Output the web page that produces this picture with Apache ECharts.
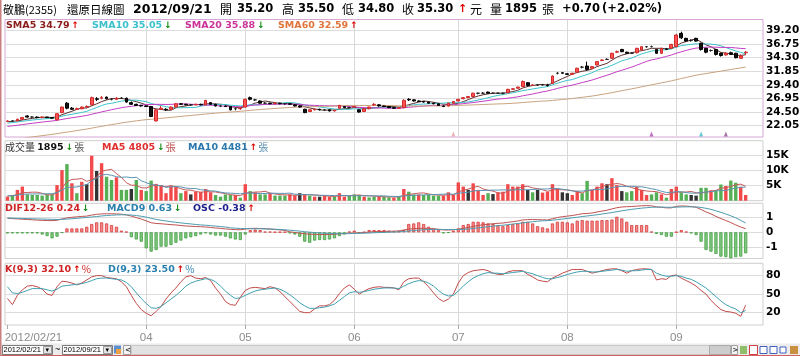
<!DOCTYPE html>
<html><head><meta charset="utf-8">
<script src="https://cdn.jsdelivr.net/npm/echarts@6/dist/echarts.min.js"></script>
<style>html,body{margin:0;padding:0;background:#fff}#c{width:800px;height:356px}</style>
</head><body><div id="c"></div>
<script>
// ---------- DATA ----------
const tradingDays = [
  ['02', [21,22,23,24,29]],
  ['03', [1,2,3,5,6,7,8,9,12,13,14,15,16,19,20,21,22,23,26,27,28,29,30]],
  ['04', [2,3,5,6,9,10,11,12,13,16,17,18,19,20,23,24,25,26,27,30]],
  ['05', [2,3,4,7,8,9,10,11,14,15,16,17,18,21,22,23,24,25,28,29,30,31]],
  ['06', [1,4,5,6,7,8,11,12,13,14,15,18,19,20,21,22,25,26,27,28,29]],
  ['07', [2,3,4,5,6,9,10,11,12,13,16,17,18,19,20,23,24,25,26,27,30,31]],
  ['08', [1,3,6,7,8,9,10,13,14,15,16,17,20,21,22,23,24,27,28,29,30,31]],
  ['09', [3,4,5,6,7,10,11,12,13,14,17,18,19,20,21]]
];
const opens = [22.8,22.9,22.9,23.2,23.8,23.6,23.6,23.5,23.6,23.5,
 23.1,24.4,26.1,25.2,25.0,25.1,25.4,25.8,26.9,27.0,
 27.2,26.8,26.8,27.0,27.0,26.2,25.9,25.7,25.6,25.5,
 22.9,25.0,25.0,25.0,25.4,26.0,25.9,25.8,25.8,25.9,
 25.8,26.2,25.9,25.6,25.6,25.5,25.1,25.1,25.4,27.1,
 26.7,26.5,26.1,26.1,26.0,26.1,26.0,26.0,25.8,25.6,
 25.0,24.6,24.9,25.0,24.9,24.9,24.7,25.2,25.5,25.3,
 25.4,24.9,24.6,25.1,25.8,25.8,25.6,25.5,25.3,25.2,
 25.3,26.8,26.7,26.5,26.4,26.3,26.1,26.0,25.6,25.6,
 26.1,26.5,26.9,27.1,27.3,27.9,27.9,28.1,27.9,27.9,
 27.9,28.0,28.6,28.8,29.1,29.8,29.3,29.4,29.4,29.4,
 29.7,31.5,31.6,31.4,31.3,31.7,32.6,32.8,32.4,33.0,
 33.8,34.0,34.2,35.3,35.8,35.3,35.1,35.2,35.7,36.3,
 36.3,35.8,35.1,35.9,36.0,36.3,38.7,37.8,37.4,37.8,
 36.9,36.0,35.6,35.8,35.1,34.8,35.2,35.1,34.2,35.2];
const closes = [22.9,22.9,23.2,23.5,23.6,23.6,23.5,23.6,23.5,23.4,
 24.2,25.4,25.2,25.0,25.1,25.4,25.5,27.1,26.8,27.1,
 26.9,26.8,27.0,27.0,26.3,25.9,25.7,25.6,25.5,23.7,
 24.9,25.2,24.9,25.4,26.0,25.9,25.8,25.8,25.9,25.8,
 26.6,25.9,25.6,25.6,25.5,24.9,25.1,25.2,26.8,26.8,
 26.7,26.1,26.1,26.0,26.1,26.0,26.0,25.9,25.6,25.4,
 24.4,24.9,25.0,24.9,24.9,24.7,24.8,25.7,25.3,25.3,
 25.5,24.5,25.1,25.4,25.9,25.6,25.5,25.3,25.2,25.3,
 26.6,26.7,26.5,26.4,26.3,26.1,26.0,25.7,25.5,26.1,
 26.4,26.8,27.1,27.3,27.9,27.9,27.9,27.9,27.9,27.9,
 27.9,28.6,28.7,29.0,30.0,29.3,29.4,29.4,29.4,29.3,
 31.0,31.5,31.5,31.3,31.5,32.4,32.6,32.2,32.7,33.6,
 33.9,34.0,35.1,35.4,35.4,35.1,35.1,36.0,36.3,36.3,
 36.3,35.1,36.0,35.8,36.7,38.4,37.9,37.3,37.4,37.3,
 35.8,35.3,35.6,34.9,34.7,35.1,34.9,34.3,34.6,35.3];
const lows = [22.7,22.8,22.8,23.1,23.5,23.5,23.4,23.4,23.4,23.3,
 23.0,24.3,25.0,24.9,24.9,25.0,25.3,25.7,26.5,26.8,
 26.8,26.6,26.7,26.9,26.2,25.8,25.6,25.5,25.4,23.6,
 22.8,24.9,24.7,24.9,25.3,25.8,25.7,25.6,25.7,25.7,
 25.7,25.8,25.5,25.4,25.4,24.8,24.8,24.9,25.3,26.6,
 26.5,26.0,26.0,25.9,25.9,25.9,25.8,25.8,25.5,25.3,
 24.3,24.5,24.8,24.8,24.7,24.6,24.6,25.1,25.2,25.2,
 25.3,24.4,24.5,25.0,25.6,25.5,25.4,25.2,25.1,25.1,
 25.2,26.5,26.4,26.3,26.2,26.0,25.9,25.6,25.4,25.5,
 26.0,26.4,26.8,27.0,27.2,27.7,27.8,27.8,27.8,27.8,
 27.7,27.9,28.5,28.7,29.0,29.1,29.2,29.2,29.3,29.1,
 29.6,31.3,31.4,31.2,31.2,31.6,32.4,32.0,32.3,32.9,
 33.7,33.9,34.1,35.2,35.3,35.0,35.0,35.1,35.6,36.1,
 36.2,35.0,35.0,35.7,35.9,36.2,37.7,37.2,37.2,37.2,
 35.6,35.1,35.4,34.7,34.5,34.7,34.8,34.2,34.1,34.8];
const highs = [23.0,23.0,23.3,23.6,23.9,23.7,23.7,23.7,23.6,23.6,
 24.3,25.5,26.3,25.4,25.3,25.5,25.7,27.3,27.2,27.4,
 27.3,27.0,27.2,27.2,27.1,26.4,26.0,25.8,25.7,25.6,
 25.0,25.6,25.2,25.5,26.1,26.1,26.0,25.9,26.0,26.0,
 26.7,26.3,26.0,25.7,25.7,25.6,25.3,25.4,26.9,27.3,
 26.9,26.6,26.3,26.2,26.2,26.2,26.1,26.1,25.9,25.7,
 25.1,25.0,25.1,25.1,25.0,25.0,24.9,25.8,25.6,25.5,
 25.6,25.0,25.2,25.5,26.1,25.9,25.7,25.6,25.4,25.4,
 26.8,27.0,26.8,26.6,26.5,26.4,26.2,26.0,25.7,26.2,
 26.5,26.9,27.2,27.4,28.0,28.0,28.1,28.2,28.0,28.0,
 28.0,28.7,28.8,29.1,30.2,29.9,29.5,29.5,29.5,29.6,
 31.1,31.7,31.7,31.5,31.6,32.5,32.8,33.6,32.8,33.7,
 34.0,34.2,35.2,35.6,35.9,35.4,35.3,36.1,36.4,36.4,
 36.5,35.9,36.1,36.0,36.8,38.6,39.0,37.9,37.6,37.9,
 37.0,36.1,35.8,35.9,35.2,35.3,35.4,35.2,34.9,35.5];
// closes of the 59 sessions before 2012/02/21 (estimated so the averages start where the picture shows)
const priorCloses = [16.0,16.2,16.2,16.0,15.9,16.6,16.4,16.3,16.5,16.6,16.8,16.9,17.0,16.9,17.0,
 17.1,17.2,17.3,17.4,17.5,17.6,17.8,18.0,18.2,18.4,18.6,18.9,19.2,19.5,
 19.8,20.0,20.2,20.3,20.4,20.5,20.6,20.7,20.9,21.0,21.3,
 21.0,21.1,21.0,21.2,21.3,21.4,21.3,21.5,21.6,21.8,22.0,22.1,22.3,22.4,22.5,22.6,22.7,22.8,22.8];
const volumes = [1350,1900,3600,4700,2100,1900,1900,1700,2100,2100,
 5200,10200,12200,5800,2500,6300,5500,15000,9900,12500,
 8000,6900,7800,3600,3600,3900,6900,3600,3200,6700,
 5600,5200,2500,5000,4700,2500,3200,2100,3000,3000,
 3900,2800,1900,1350,2100,1900,1900,1000,5500,3200,
 2800,2100,2100,2500,1700,1700,1700,2100,1700,2500,
 2100,1700,1350,1350,1700,1350,1350,2500,1350,1700,
 2100,1900,1350,1100,1350,1350,1350,1100,1000,1500,
 3900,3000,2100,2100,1900,2100,1700,1700,1700,2800,
 2100,6100,4700,3600,5800,3600,1900,2500,2200,2800,
 3000,5500,4700,4700,5500,3600,2800,3600,2700,3000,
 5500,4100,2800,2500,1900,3200,2500,6600,3600,4700,
 5800,5500,7500,5200,3200,2800,3200,4700,3600,1900,
 2100,2800,2100,1000,3900,4700,2800,2100,1900,1700,
 4300,4300,3500,3400,5400,4900,6700,6000,4600,1895];
// 1 = up vs previous close, -1 = down, 0 = unchanged
const volDir = [1,-1,1,1,-1,-1,-1,-1,-1,-1,
 1,1,-1,1,-1,1,0,1,0,1,
 -1,-1,1,-1,-1,0,-1,1,-1,-1,
 1,1,1,1,1,-1,1,0,1,1,
 1,1,-1,-1,-1,-1,1,-1,1,-1,
 1,-1,-1,1,-1,-1,-1,1,1,0,
 1,-1,1,0,1,1,-1,1,1,-1,
 -1,-1,1,-1,-1,1,-1,-1,1,-1,
 1,-1,-1,1,-1,-1,-1,-1,1,1,
 1,1,1,0,1,1,1,-1,0,1,
 1,1,1,1,1,0,-1,0,1,1,
 1,1,0,0,1,1,-1,-1,1,1,
 1,0,1,1,0,-1,-1,1,1,1,
 -1,-1,1,-1,1,1,-1,-1,0,0,
 -1,-1,1,-1,-1,1,-1,-1,1,1];
const priorVolumes = [1500,1700,1600,1400,1800,1500,1700,1600,1900];
const difValues = [0.95,0.93,0.91,0.89,0.87,0.85,0.83,0.81,0.80,0.79,
 0.82,0.90,0.98,1.02,1.05,1.08,1.10,1.17,1.22,1.25,
 1.26,1.26,1.25,1.23,1.18,1.10,1.00,0.90,0.78,0.65,
 0.60,0.58,0.55,0.52,0.50,0.46,0.43,0.41,0.39,0.38,
 0.36,0.33,0.29,0.27,0.23,0.20,0.18,0.17,0.22,0.26,
 0.27,0.26,0.24,0.22,0.19,0.16,0.13,0.03,-0.01,-0.06,
 -0.10,-0.13,-0.14,-0.15,-0.15,-0.14,-0.13,-0.10,-0.08,-0.06,
 -0.04,-0.04,-0.02,0.01,0.04,0.05,0.06,0.07,0.08,0.09,
 0.16,0.22,0.25,0.27,0.27,0.26,0.24,0.20,0.16,0.15,
 0.17,0.21,0.27,0.33,0.40,0.46,0.51,0.55,0.58,0.61,
 0.63,0.68,0.72,0.77,0.84,0.86,0.87,0.86,0.85,0.84,
 0.92,1.00,1.06,1.10,1.14,1.20,1.26,1.28,1.31,1.38,
 1.44,1.50,1.59,1.67,1.72,1.74,1.75,1.78,1.80,1.81,
 1.80,1.73,1.70,1.66,1.66,1.76,1.79,1.78,1.75,1.70,
 1.55,1.38,1.25,1.08,0.93,0.80,0.66,0.50,0.36,0.24];
const macdValues = [0.97,0.96,0.95,0.94,0.93,0.92,0.91,0.90,0.89,0.88,
 0.87,0.88,0.90,0.92,0.95,0.98,1.01,1.04,1.07,1.11,
 1.14,1.16,1.18,1.19,1.19,1.17,1.14,1.09,1.03,0.95,
 0.88,0.82,0.77,0.72,0.68,0.64,0.60,0.57,0.53,0.50,
 0.48,0.45,0.42,0.39,0.36,0.30,0.28,0.26,0.25,0.24,
 0.24,0.24,0.23,0.22,0.21,0.19,0.17,0.14,0.11,0.08,
 0.04,0.01,-0.02,-0.04,-0.06,-0.08,-0.09,-0.09,-0.09,-0.09,
 -0.08,-0.07,-0.06,-0.05,-0.03,-0.02,-0.01,0.01,0.02,0.03,
 0.06,0.09,0.12,0.15,0.17,0.19,0.20,0.20,0.19,0.19,
 0.19,0.19,0.20,0.22,0.26,0.30,0.34,0.38,0.42,0.45,
 0.48,0.52,0.56,0.60,0.64,0.68,0.72,0.75,0.78,0.79,
 0.82,0.86,0.90,0.94,0.98,1.02,1.07,1.11,1.15,1.19,
 1.24,1.29,1.34,1.40,1.46,1.51,1.56,1.60,1.64,1.67,
 1.70,1.71,1.71,1.70,1.70,1.71,1.72,1.73,1.73,1.72,
 1.69,1.63,1.56,1.46,1.36,1.24,1.12,0.98,0.81,0.63];
const oscValues = [-0.02,-0.02,-0.02,-0.02,-0.02,-0.02,-0.02,-0.04,-0.07,-0.11,
 -0.08,-0.01,0.07,0.07,0.07,0.07,0.10,0.15,0.18,0.18,
 0.16,0.13,0.10,0.03,0.01,-0.09,-0.13,-0.17,-0.29,-0.35,
 -0.32,-0.26,-0.26,-0.23,-0.19,-0.15,-0.11,-0.09,-0.07,-0.04,
 -0.02,-0.04,-0.06,-0.06,-0.08,-0.11,-0.13,-0.14,-0.04,0.04,
 0.05,0.04,0.01,0.01,0.005,0.005,0.005,-0.02,-0.04,-0.08,
 -0.17,-0.19,-0.15,-0.14,-0.14,-0.13,-0.11,-0.07,-0.04,0.01,
 0.03,-0.01,0.005,0.04,0.04,0.04,0.04,0.03,0.02,0.03,
 0.04,0.15,0.16,0.18,0.15,0.10,0.07,0.04,-0.02,-0.01,
 0.03,0.07,0.13,0.15,0.19,0.19,0.18,0.16,0.15,0.13,
 0.11,0.13,0.15,0.16,0.19,0.19,0.16,0.11,0.09,0.07,
 0.16,0.19,0.19,0.18,0.16,0.21,0.22,0.21,0.21,0.21,
 0.22,0.22,0.23,0.28,0.25,0.19,0.13,0.13,0.13,0.13,
 0.01,-0.03,-0.05,-0.08,-0.08,0.005,0.04,0.01,-0.02,-0.05,
 -0.17,-0.32,-0.35,-0.39,-0.44,-0.45,-0.47,-0.45,-0.44,-0.38];
const kValues = [43,33,48,57,63,64,62,58,50,48,
 62,71,70,68,65,68,73,78,80,80,
 77,76,75,70,62,48,35,25,19,15,
 22,30,42,52,60,70,78,80,76,75,
 77,72,60,50,38,33,32,45,56,60,
 61,60,59,62,60,54,46,38,30,22,
 20,20,26,31,31,33,40,51,60,65,
 58,50,55,59,61,62,61,61,60,57,
 70,75,76,76,70,62,52,43,38,42,
 50,68,80,85,88,89,90,88,84,82,
 82,86,88,88,88,82,78,73,71,70,
 76,80,84,87,90,90,90,87,84,86,
 88,90,91,91,88,84,88,90,91,91,
 90,73,75,74,80,81,76,72,68,63,
 56,50,40,32,25,22,21,19,14,32.10];
const dValues = [62,52,51,53,56,59,59,59,57,55,
 58,63,64,65,66,67,69,72,75,76,
 76,75,74,73,69,62,52,43,35,28,
 27,30,36,42,48,55,63,68,71,73,
 75,74,70,63,55,48,43,44,48,52,
 55,57,58,59,60,58,54,49,43,36,
 31,27,27,28,29,31,34,40,46,52,
 54,53,54,56,58,59,60,60,60,59,
 63,67,70,72,71,68,63,56,50,47,
 48,55,63,70,76,80,83,85,84,84,
 83,84,85,86,87,85,83,80,77,75,
 75,77,79,82,84,86,87,87,86,86,
 87,88,89,90,89,87,88,88,89,90,
 90,84,81,79,79,80,79,76,74,70,
 65,60,53,46,39,33,29,26,20,23.50];
const priceTicks = [22.05,24.50,26.95,29.40,31.85,34.30,36.75,39.20];
const volTicks = [5000,10000,15000];
const macdTicks = [-1,0,1];
const kdTicks = [20,50,80];
const eventDays = [90,130,140,145];

// ---------- BUILD ----------
const dates = [];
const monthStarts = [];
tradingDays.forEach(([m, days], mi) => {
  if (mi > 1) monthStarts.push(dates.length);
  days.forEach(d => dates.push('2012/' + m + '/' + String(d).padStart(2, '0')));
});
const cats = dates.concat([' ', '  ', '   ']);
const showLab = new Set([0].concat(monthStarts));

function movingAvg(values, prior, n) {
  const all = prior.concat(values), off = prior.length;
  return values.map((_, i) => {
    const end = off + i;
    if (end + 1 < n) return null;
    let s = 0;
    for (let k = end - n + 1; k <= end; k++) s += all[k];
    return +(s / n).toFixed(3);
  });
}
const sma5 = movingAvg(closes, priorCloses, 5);
const sma10 = movingAvg(closes, priorCloses, 10);
const sma20 = movingAvg(closes, priorCloses, 20);
const sma60 = movingAvg(closes, priorCloses, 60);
const vma5 = movingAvg(volumes, priorVolumes, 5);
const vma10 = movingAvg(volumes, priorVolumes, 10);

const ohlc = dates.map((d, i) => [opens[i], closes[i], lows[i], highs[i]]);
const volColors = {'1': '#f24a4a', '-1': '#55b055', '0': '#333333'};
const volData = volumes.map((v, i) => ({value: v, itemStyle: {color: volColors[volDir[i]]}}));
const oscData = oscValues.map(v => ({value: v, itemStyle: v >= 0
  ? {color: '#f58a8a', borderColor: '#d83c3c', borderWidth: 0.8}
  : {color: '#82c882', borderColor: '#44a044', borderWidth: 0.8}}));
const eventColors = ['#e8a0a0', '#b050b0', '#40c0c8', '#905090'];
const eventData = eventDays.map((d, i) => ({value: [dates[d], 20.0], itemStyle: {color: eventColors[i]}}));

const vLines = {
  silent: true, z: 1, symbol: ['none', 'none'], animation: false,
  label: {show: false}, lineStyle: {color: '#d9d9d9', width: 1, type: 'solid'},
  data: monthStarts.map(i => ({xAxis: dates[i]}))
};

const G = {left: 5, right: 37, outerBoundsMode: 'none', containLabel: false, show: true, backgroundColor: '#fff'};
const grids = [
  Object.assign({}, G, {top: 19.5, height: 117.5, borderColor: '#d7a6d7'}),
  Object.assign({}, G, {top: 140.7, height: 60, borderColor: '#cfcfcf'}),
  Object.assign({}, G, {top: 203.3, height: 55.2, borderColor: '#cfcfcf'}),
  Object.assign({}, G, {top: 263.3, height: 61.7, borderColor: '#cfcfcf'})
];
const xAxes = [0, 1, 2, 3].map(g => ({
  type: 'category', gridIndex: g, data: cats, boundaryGap: true,
  axisLine: {show: false}, splitLine: {show: false},
  axisTick: g === 3 ? {show: true, interval: i => showLab.has(i), alignWithLabel: true, length: 4, lineStyle: {color: '#aaa'}} : {show: false},
  axisLabel: g === 3 ? {
    show: true, interval: i => showLab.has(i), color: '#8c8c8c', fontSize: 11.5, fontFamily: 'Liberation Sans',
    margin: 7, hideOverlap: false,
    formatter: (v, i) => i === 0 ? '{d|' + v + '}' : v.slice(5, 7),
    rich: {d: {color: '#8c8c8c', fontSize: 11.5, fontFamily: 'Liberation Sans', padding: [0, 0, 0, 52]}}
  } : {show: false}
}));
const yLab = {show: true, color: '#000', fontWeight: 'bold', fontSize: 10.5, fontFamily: 'DejaVu Sans', margin: 3};
const split = {show: true, lineStyle: {color: '#dcdcdc', width: 1}};
const yAxes = [
  {type: 'value', gridIndex: 0, position: 'right', min: 20.0, max: 41.2, axisLine: {show: false},
   axisTick: {show: false, customValues: priceTicks}, splitLine: split,
   axisLabel: Object.assign({}, yLab, {customValues: priceTicks, formatter: v => v.toFixed(2)})},
  {type: 'value', gridIndex: 1, position: 'right', min: 0, max: 20000, axisLine: {show: false},
   axisTick: {show: false, customValues: volTicks}, splitLine: split,
   axisLabel: Object.assign({}, yLab, {customValues: volTicks, formatter: v => (v / 1000) + 'K'})},
  {type: 'value', gridIndex: 2, position: 'right', min: -1.78, max: 1.97, axisLine: {show: false},
   axisTick: {show: false, customValues: macdTicks}, splitLine: split,
   axisLabel: Object.assign({}, yLab, {customValues: macdTicks, formatter: v => String(v)})},
  {type: 'value', gridIndex: 2, position: 'right', min: -0.4734, max: 0.5239, show: false, splitLine: {show: false}},
  {type: 'value', gridIndex: 3, position: 'right', min: 0, max: 100, axisLine: {show: false},
   axisTick: {show: false, customValues: kdTicks}, splitLine: split,
   axisLabel: Object.assign({}, yLab, {customValues: kdTicks, formatter: v => String(v)})}
];
function line(name, data, x, y, color, extra) {
  return Object.assign({name, type: 'line', data, xAxisIndex: x, yAxisIndex: y, showSymbol: false, symbol: 'none',
    lineStyle: {color, width: 1}, z: 3, silent: true, animation: false}, extra || {});
}
const series = [
  {type: 'candlestick', data: ohlc, xAxisIndex: 0, yAxisIndex: 0, barWidth: 3.2, z: 4,
   itemStyle: {color: '#ff5252', color0: '#111', borderColor: '#d02a2a', borderColor0: '#000', borderColorDoji: '#222', borderWidth: 1},
   markLine: vLines},
  line('SMA5', sma5, 0, 0, '#5c2f2f'),
  line('SMA10', sma10, 0, 0, '#3dc3cc'),
  line('SMA20', sma20, 0, 0, '#c53dc5'),
  line('SMA60', sma60, 0, 0, '#c9a27e'),
  {type: 'scatter', data: eventData, xAxisIndex: 0, yAxisIndex: 0, symbol: 'triangle', symbolSize: [4, 5], symbolOffset: [0, -3], z: 4, silent: true},
  {type: 'bar', data: volData, xAxisIndex: 1, yAxisIndex: 1, barWidth: 3.4, z: 2, markLine: vLines},
  line('VMA5', vma5, 1, 1, '#c85a5a'),
  line('VMA10', vma10, 1, 1, '#5a94b2'),
  {type: 'bar', data: oscData, xAxisIndex: 2, yAxisIndex: 3, barWidth: 3.2, z: 2, markLine: vLines},
  line('DIF', difValues, 2, 2, '#c05252'),
  line('MACD', macdValues, 2, 2, '#4d9cb0'),
  line('K', kValues, 3, 4, '#c24a4a', {markLine: vLines}),
  line('D', dValues, 3, 4, '#3fa2b2')
];

// ---------- TEXT ----------
const CJK = '"Noto Sans CJK TC"';
const BD = '"DejaVu Sans"';
function t(x, y, text, font, fill) {
  return {type: 'text', x, y, silent: true, z: 10, style: {text, font, fill: fill || '#000', verticalAlign: 'middle'}};
}
const up = '#e00000', dn = '#108a10';
const header = [
  t(3, 9.5, '敬鵬(2355)', '11px ' + CJK),
  t(67, 9.5, '還原日線圖', '11.5px ' + CJK),
  t(133, 9.5, '2012/09/21', 'bold 12.5px ' + BD),
  t(220, 9.5, '開', '12px ' + CJK), t(237, 9.5, '35.20', 'bold 11.5px ' + BD),
  t(282, 9.5, '高', '12px ' + CJK), t(298, 9.5, '35.50', 'bold 11.5px ' + BD),
  t(342, 9.5, '低', '12px ' + CJK), t(358, 9.5, '34.80', 'bold 11.5px ' + BD),
  t(402, 9.5, '收', '12px ' + CJK), t(417, 9.5, '35.30', 'bold 11.5px ' + BD),
  t(458, 9.5, '↑', 'bold 11px ' + BD, up), t(470, 9.5, '元', '12px ' + CJK),
  t(490, 9.5, '量', '12px ' + CJK), t(505, 9.5, '1895', 'bold 11.5px ' + BD), t(542, 9.5, '張', '12px ' + CJK),
  t(562, 9.5, '+0.70', 'bold 11.5px ' + BD), t(602, 9.5, '(+2.02%)', 'bold 11.5px ' + BD)
];
function leg(x, y, label, color, arrowUp, tail, tailColor) {
  return {type: 'text', x, y, silent: true, z: 10, style: {
    text: '{a|' + label + '}{b|' + (arrowUp ? '↑' : '↓') + '}' + (tail ? '{c|' + tail + '}' : ''),
    verticalAlign: 'middle',
    rich: {
      a: {font: 'bold 9.5px ' + BD, fill: color},
      b: {font: 'bold 9px ' + BD, fill: arrowUp ? up : dn, padding: [0, 1, 0, 2]},
      c: {font: '10px ' + CJK, fill: tailColor || color}
    }}};
}
const legends = [
  leg(6, 25.5, 'SMA5 34.79', '#8b1c1c', true),
  leg(92, 25.5, 'SMA10 35.05', '#3cc0cc', false),
  leg(185, 25.5, 'SMA20 35.88', '#cc3399', false),
  leg(278, 25.5, 'SMA60 32.59', '#e0763c', true),
  {type: 'text', x: 5, y: 147.7, silent: true, z: 10, style: {text: '{z|成交量 }{a|1895}{b|↓}{c|張}', verticalAlign: 'middle', rich: {
    z: {font: '10px ' + CJK, fill: '#333'}, a: {font: 'bold 9.5px ' + BD, fill: '#111'},
    b: {font: 'bold 9px ' + BD, fill: dn, padding: [0, 1, 0, 2]}, c: {font: '10px ' + CJK, fill: '#555'}}}},
  leg(102, 147.7, 'MA5 4805', '#e03030', false, '張', '#c05050'),
  leg(188, 147.7, 'MA10 4481', '#2a78ae', true, '張', '#5a8fb0'),
  leg(5, 208.3, 'DIF12-26 0.24', '#d02424', false),
  leg(107, 208.3, 'MACD9 0.63', '#2a80ae', false),
  leg(193, 208.3, 'OSC -0.38', '#1c1c8c', true),
  leg(5, 269.5, 'K(9,3) 32.10', '#d02424', true, '%'),
  leg(108, 269.5, 'D(9,3) 23.50', '#2a80ae', true, '%')
];
// bottom control bar
function rect(x, y, w, h, fill, stroke) {
  return {type: 'rect', silent: true, z: 10, shape: {x, y, width: w, height: h}, style: {fill, stroke: stroke || null, lineWidth: stroke ? 1 : 0}};
}
const bar = [
  rect(0, 343.5, 800, 12, '#ececec'),
  rect(2.5, 345.5, 50, 9, '#fff', '#7a7a7a'),
  t(3.5, 350, '2012/02/21', '7.5px "Liberation Sans"', '#000'),
  rect(43.5, 346.5, 8, 7, '#e4e4e4', '#9a9a9a'),
  t(45.5, 350, '▾', '7px ' + BD, '#000'),
  t(55, 350, '~', '9px "Liberation Sans"', '#000'),
  rect(62.5, 345.5, 50, 9, '#fff', '#7a7a7a'),
  t(63.5, 350, '2012/09/21', '7.5px "Liberation Sans"', '#000'),
  rect(103.5, 346.5, 8, 7, '#e4e4e4', '#9a9a9a'),
  t(105.5, 350, '▾', '7px ' + BD, '#000'),
  rect(114, 345.5, 7, 8, '#5a8fd0'),
  rect(116, 349, 5, 5, '#f0a040'),
  rect(123.5, 345.5, 7, 9, '#f4f4f4', '#a0a0a0'),
  t(125, 350, '<', 'bold 7px ' + BD, '#333'),
  rect(131.5, 345.5, 599, 9, '#e2e2e2', '#c8c8c8'),
  rect(709.5, 345.5, 21, 9, '#cdcdcd', '#aaaaaa'),
  rect(731.5, 345.5, 6, 9, '#f4f4f4', '#a0a0a0'),
  t(732.5, 350, '>', 'bold 7px ' + BD, '#333'),
  rect(740, 346, 7, 8, '#8fbf6a'), rect(749.5, 345.5, 8, 9, '#fff', '#d04040'),
  rect(760, 346.5, 7, 7, '#fff', '#4060c0'), rect(770, 346.5, 7, 7, '#fff', '#4060c0'),
  rect(780, 347, 6, 6, '#fff', '#4060c0'), rect(790, 346, 8, 8, '#c89040'),
  rect(0, 355, 800, 1, '#d06060'),
  rect(0, 0, 1.5, 356, '#c98080')
];

const chart = echarts.init(document.getElementById('c'), null, {renderer: 'canvas'});
chart.setOption({
  animation: false,
  backgroundColor: '#fff',
  textStyle: {fontFamily: 'DejaVu Sans'},
  grid: grids, xAxis: xAxes, yAxis: yAxes, series,
  graphic: header.concat(legends, bar)
});
</script></body></html>
